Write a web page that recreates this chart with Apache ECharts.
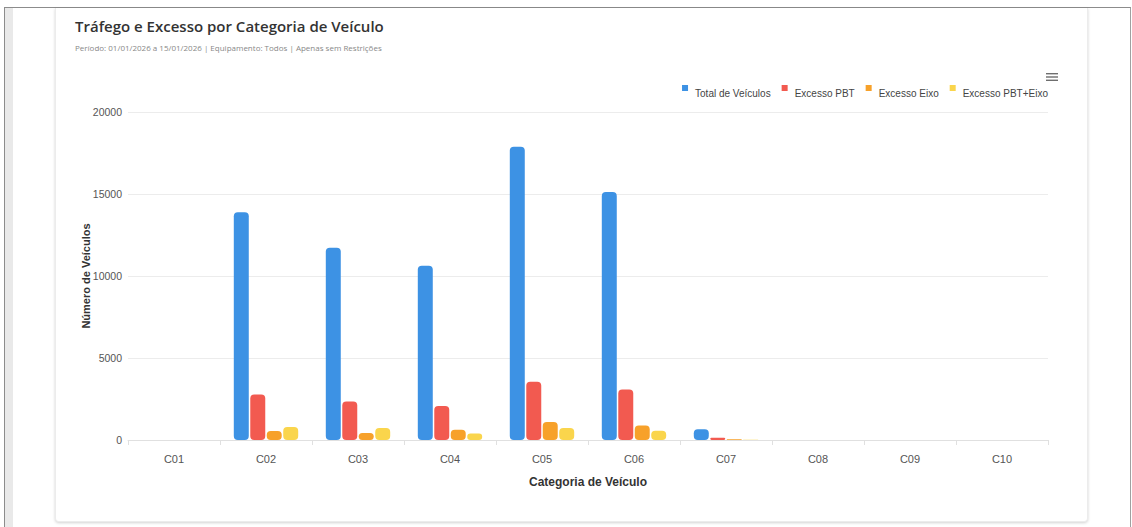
<!DOCTYPE html>
<html>
<head>
<meta charset="utf-8">
<script src="https://cdn.jsdelivr.net/npm/echarts@6/dist/echarts.min.js"></script>
<style>
html,body{margin:0;padding:0;background:#fff;width:1132px;height:527px;overflow:hidden;}
#frame{position:absolute;left:4px;top:7px;width:1125px;height:530px;border-top:1px solid #8c8c8c;border-left:1px solid #8c8c8c;border-right:1px solid #a0a0a0;}
#strip{position:absolute;left:5px;top:8px;width:8px;height:519px;background:#e9e9e9;}
#card{position:absolute;left:55px;top:8px;width:1031px;height:513px;background:#fff;border:1px solid #ececec;border-top:none;border-radius:0 0 4px 4px;box-shadow:0 1px 3px rgba(0,0,0,0.18);}
#chart{position:absolute;left:0;top:0;width:1132px;height:527px;}
</style>
</head>
<body>
<div id="frame"></div>
<div id="strip"></div>
<div id="card"></div>
<div id="chart"></div>
<script>
const categories = ['C01','C02','C03','C04','C05','C06','C07','C08','C09','C10'];
const totalVeiculos = [0, 13880, 11720, 10630, 17880, 15120, 650, 0, 0, 0];
const excessoPBT = [0, 2780, 2350, 2070, 3550, 3080, 140, 0, 0, 0];
const excessoEixo = [0, 550, 430, 630, 1090, 890, 40, 0, 0, 0];
const excessoPBTEixo = [0, 790, 730, 390, 730, 570, 15, 0, 0, 0];
const yTicks = [0, 5000, 10000, 15000, 20000];

const chart = echarts.init(document.getElementById('chart'), null, {renderer:'svg'});
const font = '"Liberation Sans", Arial, sans-serif';
const legendIcon = 'path://M0 0h6v6H0z M0 15.9h0.1v0.1H0z';
function s(name, data, color){
  return {name:name, type:'bar', data:data, barCategoryGap:'30%', barGap:'10%',
    itemStyle:{color:color, borderRadius:4}, emphasis:{disabled:true}};
}
chart.setOption({
  animation:false,
  title:[
    {text:'Tráfego e Excesso por Categoria de Veículo', left:70, top:13,
     textStyle:{fontFamily:'"Open Sans", sans-serif', fontSize:15, fontWeight:600, color:'#333'}},
    {text:'Período: 01/01/2026 a 15/01/2026 | Equipamento: Todos | Apenas sem Restrições', left:70, top:38,
     textStyle:{fontFamily:'"Open Sans", sans-serif', fontSize:8, fontWeight:'normal', color:'#888'}}
  ],
  legend:{
    right:79, top:80, itemWidth:6, itemHeight:16, itemGap:11, icon:legendIcon,
    textStyle:{fontFamily:font, fontSize:10, color:'#444', padding:[0,0,0,2]},
    data:['Total de Veículos','Excesso PBT','Excesso Eixo','Excesso PBT+Eixo']
  },
  graphic:[
    {type:'group', left:1046, top:73, children:[
      {type:'rect', shape:{x:0,y:0,width:12,height:1.4}, style:{fill:'#6e6e6e'}},
      {type:'rect', shape:{x:0,y:3.3,width:12,height:1.4}, style:{fill:'#6e6e6e'}},
      {type:'rect', shape:{x:0,y:6.6,width:12,height:1.4}, style:{fill:'#6e6e6e'}}
    ]}
  ],
  grid:{left:128, right:84, top:112, bottom:87, containLabel:false},
  xAxis:{
    type:'category', data:categories,
    name:'Categoria de Veículo', nameLocation:'middle', nameGap:36,
    nameTextStyle:{fontFamily:font, fontSize:12, fontWeight:'bold', color:'#333'},
    axisLine:{lineStyle:{color:'#e0e0e0'}},
    axisTick:{show:true, length:5, lineStyle:{color:'#e0e0e0'}},
    axisLabel:{fontFamily:font, fontSize:11, color:'#555', margin:13}
  },
  yAxis:{
    type:'value', min:yTicks[0], max:yTicks[yTicks.length-1], interval:5000,
    name:'Número de Veículos', nameLocation:'middle', nameGap:37, nameRotate:90, nameMoveOverlap:false,
    nameTextStyle:{fontFamily:font, fontSize:11, fontWeight:'bold', color:'#333'},
    axisLine:{show:false}, axisTick:{show:false},
    splitLine:{lineStyle:{color:'#ececec'}},
    axisLabel:{fontFamily:font, fontSize:10.5, color:'#555', margin:6, formatter:function(v){return String(v);}}
  },
  series:[
    s('Total de Veículos', totalVeiculos, '#3d92e4'),
    s('Excesso PBT', excessoPBT, '#f25a50'),
    s('Excesso Eixo', excessoEixo, '#f7a12a'),
    s('Excesso PBT+Eixo', excessoPBTEixo, '#fad54c')
  ]
});
</script>
</body>
</html>
